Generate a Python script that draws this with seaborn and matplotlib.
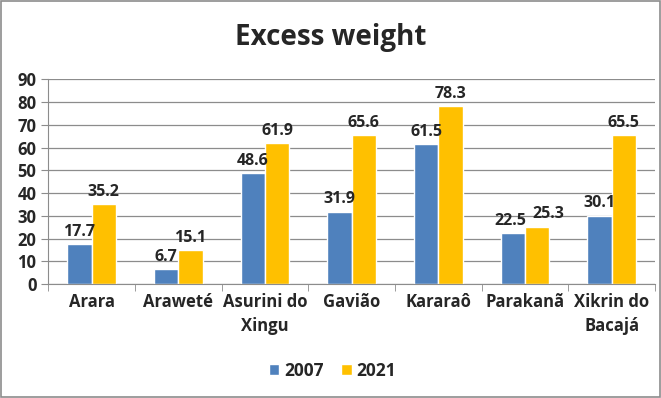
import matplotlib
matplotlib.use('Agg')
from matplotlib import pyplot as plt
from matplotlib.patches import Rectangle
import seaborn as sns
import pandas as pd

groups = ['Arara', 'Araweté', 'Asurini do\nXingu', 'Gavião', 'Kararaô', 'Parakanã', 'Xikrin do\nBacajá']
values_2007 = [17.7, 6.7, 48.6, 31.9, 61.5, 22.5, 30.1]
values_2021 = [35.2, 15.1, 61.9, 65.6, 78.3, 25.3, 65.5]
years = ['2007', '2021']
colors = ['#4F81BD', '#FFC000']

df = pd.concat([
    pd.DataFrame({'group': groups, 'value': values_2007, 'year': years[0]}),
    pd.DataFrame({'group': groups, 'value': values_2021, 'year': years[1]}),
])

sns.set_style('white')
plt.rcParams['font.family'] = ['Open Sans', 'DejaVu Sans']
plt.rcParams['font.weight'] = 'bold'

fig = plt.figure(figsize=(6.61, 3.98), dpi=100)
ax = fig.add_axes([0.073, 0.286, 0.918, 0.515])
sns.barplot(data=df, x='group', y='value', hue='year', palette=colors,
            width=0.56, saturation=1, ax=ax, legend=True)

labels = [ax.bar_label(cont, fmt='%.1f', padding=3, fontsize=11.5, fontweight='bold')
          for cont in ax.containers]
# nudge the close Parakanã labels apart, as in the original
labels[0][5].xyann = (-2, 3)
labels[1][5].xyann = (8, 3)

ax.set_ylim(0, 90)
ax.set_yticks(range(0, 91, 10))
ax.set_xlim(-0.5, len(groups) - 0.5)
ax.yaxis.grid(True, color='#8c8c8c', linewidth=0.9)
ax.set_axisbelow(True)
for side in ['top', 'right']:
    ax.spines[side].set_visible(False)
ax.spines['left'].set_color('#8c8c8c')
ax.spines['bottom'].set_color('#8c8c8c')
ax.tick_params(axis='y', labelsize=12, length=5, color='#8c8c8c', left=True)
ax.tick_params(axis='x', labelsize=12, length=0, pad=6)
for lab in ax.get_xticklabels():
    lab.set_linespacing(1.45)
# boundary ticks between categories
ax.set_xticks([i - 0.5 for i in range(len(groups) + 1)], minor=True)
ax.tick_params(axis='x', which='minor', length=5, color='#8c8c8c', bottom=True)
ax.set_xlabel('')
ax.set_ylabel('')

ax.legend(loc='upper center', bbox_to_anchor=(0.503, 0.13), bbox_transform=fig.transFigure,
          ncol=2, frameon=False, fontsize=12.5, handlelength=0.6, handleheight=0.6,
          handletextpad=0.3, columnspacing=1.0)

fig.text(0.5, 0.905, 'Excess weight', ha='center', va='center', fontsize=20, fontweight='bold')
fig.patches.append(Rectangle((0.002, 0.003), 0.996, 0.994, transform=fig.transFigure,
                             fill=False, edgecolor='#8c8c8c', linewidth=1.2))

plt.savefig('out.png', dpi=100)
